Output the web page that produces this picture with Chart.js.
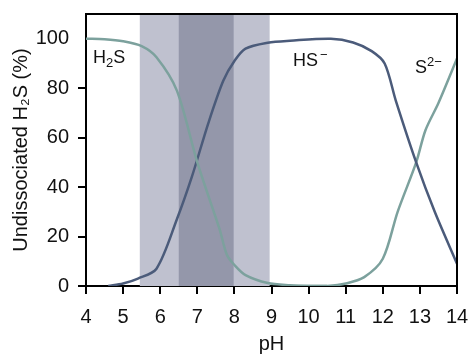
<!DOCTYPE html>
<html>
<head>
<meta charset="utf-8">
<script src="https://cdn.jsdelivr.net/npm/chart.js@4/dist/chart.umd.min.js"></script>
<style>
  html, body { margin: 0; padding: 0; background: #fff; }
  #wrap { width: 470px; height: 356px; }
</style>
</head>
<body>
<div id="wrap"><canvas id="c" width="470" height="356"></canvas></div>
<script>
// pH values
const phH2S = [4, 4.5, 5, 5.5, 5.9, 6.45, 7, 7.6, 7.8, 8, 8.3, 8.9, 9.5, 10, 10.5];
const h2s   = [100, 99.8, 99, 97, 92.5, 79, 50, 23, 12.5, 8.5, 4.4, 1.2, 0.3, 0, 0];

const phHS = [4.6, 5, 5.4, 5.9, 6.45, 6.85, 7.3, 7.7, 8, 8.3, 8.9, 9.5, 10.6, 11.2, 11.7, 12.05, 12.35, 12.9, 13.4, 14];
const hs   = [0, 1, 3, 7, 27, 44, 66, 83, 91, 96, 98.4, 99.2, 100, 98.5, 95, 90, 75, 50, 30, 9];

const phS2 = [9.5, 10, 10.5, 11, 11.5, 12, 12.4, 12.9, 13.15, 13.5, 14];
const s2   = [0, 0, 0, 1, 3.6, 11, 30, 50, 63, 74, 92];

const xTicks = [4, 5, 6, 7, 8, 9, 10, 11, 12, 13, 14];
const yTicks = [0, 20, 40, 60, 80, 100];

// shaded pH ranges
const bandOuter = [5.45, 8.95];
const bandInner = [6.5, 7.98];

const teal = '#7ca19d';
const slate = '#4b5b7a';

const pts = (xs, ys) => xs.map((x, i) => ({ x: x, y: ys[i] }));

const bands = {
  id: 'bands',
  beforeDatasetsDraw(chart) {
    const { ctx, chartArea, scales } = chart;
    const fill = (r, col) => {
      const x0 = scales.x.getPixelForValue(r[0]);
      const x1 = scales.x.getPixelForValue(r[1]);
      ctx.fillStyle = col;
      ctx.fillRect(x0, chartArea.top, x1 - x0, chartArea.bottom - chartArea.top);
    };
    ctx.save();
    fill(bandOuter, '#bfc1cf');
    fill(bandInner, '#9497aa');
    ctx.restore();
  }
};

const frame = {
  id: 'frame',
  afterDraw(chart) {
    const { ctx, chartArea, scales } = chart;
    ctx.save();
    ctx.strokeStyle = '#000';
    ctx.lineWidth = 2;
    ctx.beginPath();
    ctx.moveTo(chartArea.left, chartArea.top);
    ctx.lineTo(chartArea.right, chartArea.top);
    ctx.lineTo(chartArea.right, chartArea.bottom);
    ctx.stroke();

    // species labels
    ctx.fillStyle = '#111';
    ctx.textBaseline = 'alphabetic';
    const big = '18px "Liberation Sans", Arial, sans-serif';
    const small = '13px "Liberation Sans", Arial, sans-serif';
    const px = v => scales.x.getPixelForValue(v);
    const py = v => scales.y.getPixelForValue(v);

    let x = px(4.19), y = py(90);
    ctx.font = big; ctx.fillText('H', x, y); x += ctx.measureText('H').width;
    ctx.font = small; ctx.fillText('2', x, y + 4); x += ctx.measureText('2').width;
    ctx.font = big; ctx.fillText('S', x, y);

    x = px(9.58); y = py(89);
    ctx.font = big; ctx.fillText('HS', x, y); x += ctx.measureText('HS').width + 2;
    ctx.font = small; ctx.fillText('\u2212', x, y - 7);

    x = px(12.87); y = py(86);
    ctx.font = big; ctx.fillText('S', x, y); x += ctx.measureText('S').width;
    ctx.font = small; ctx.fillText('2\u2212', x, y - 7);
    ctx.restore();
  }
};

Chart.defaults.font.family = '"Liberation Sans", Arial, sans-serif';
Chart.defaults.color = '#111';

new Chart(document.getElementById('c'), {
  type: 'line',
  data: {
    datasets: [
      { label: 'H2S', data: pts(phH2S, h2s), borderColor: teal },
      { label: 'HS-', data: pts(phHS, hs), borderColor: slate },
      { label: 'S2-', data: pts(phS2, s2), borderColor: teal }
    ]
  },
  options: {
    responsive: false,
    animation: false,
    layout: { padding: { top: 14, right: 13, left: 0, bottom: 0 } },
    elements: {
      point: { radius: 0 },
      line: { borderWidth: 2.5, tension: 0.3, fill: false }
    },
    plugins: { legend: { display: false }, tooltip: { enabled: false } },
    scales: {
      x: {
        type: 'linear',
        min: 4,
        max: 14,
        afterBuildTicks: s => { s.ticks = xTicks.map(v => ({ value: v })); },
        afterFit: s => { s.height = 70; s.paddingLeft = 0; s.paddingRight = 0; },
        grid: { drawOnChartArea: false, drawTicks: true, tickLength: 8, color: '#000', lineWidth: 2 },
        border: { display: true, color: '#000', width: 2 },
        ticks: { font: { size: 20 }, padding: 11, color: '#111' },
        title: { display: true, text: 'pH', font: { size: 20 }, padding: { top: 3, bottom: 0 }, color: '#111' }
      },
      y: {
        min: 0,
        max: 110,
        afterBuildTicks: s => { s.ticks = yTicks.map(v => ({ value: v })); },
        afterFit: s => { s.width = 86; s.paddingTop = 0; s.paddingBottom = 0; },
        grid: {
          drawOnChartArea: false, drawTicks: true, tickLength: 8, lineWidth: 2,
          color: c => (c.tick && c.tick.value === 100 ? 'rgba(0,0,0,0)' : '#000')
        },
        border: { display: true, color: '#000', width: 2 },
        ticks: { font: { size: 20 }, padding: 9, color: '#111' },
        title: { display: true, text: 'Undissociated H\u2082S (%)', font: { size: 20 }, padding: { top: 9, bottom: 4 }, color: '#111' }
      }
    }
  },
  plugins: [bands, frame]
});
</script>
</body>
</html>
